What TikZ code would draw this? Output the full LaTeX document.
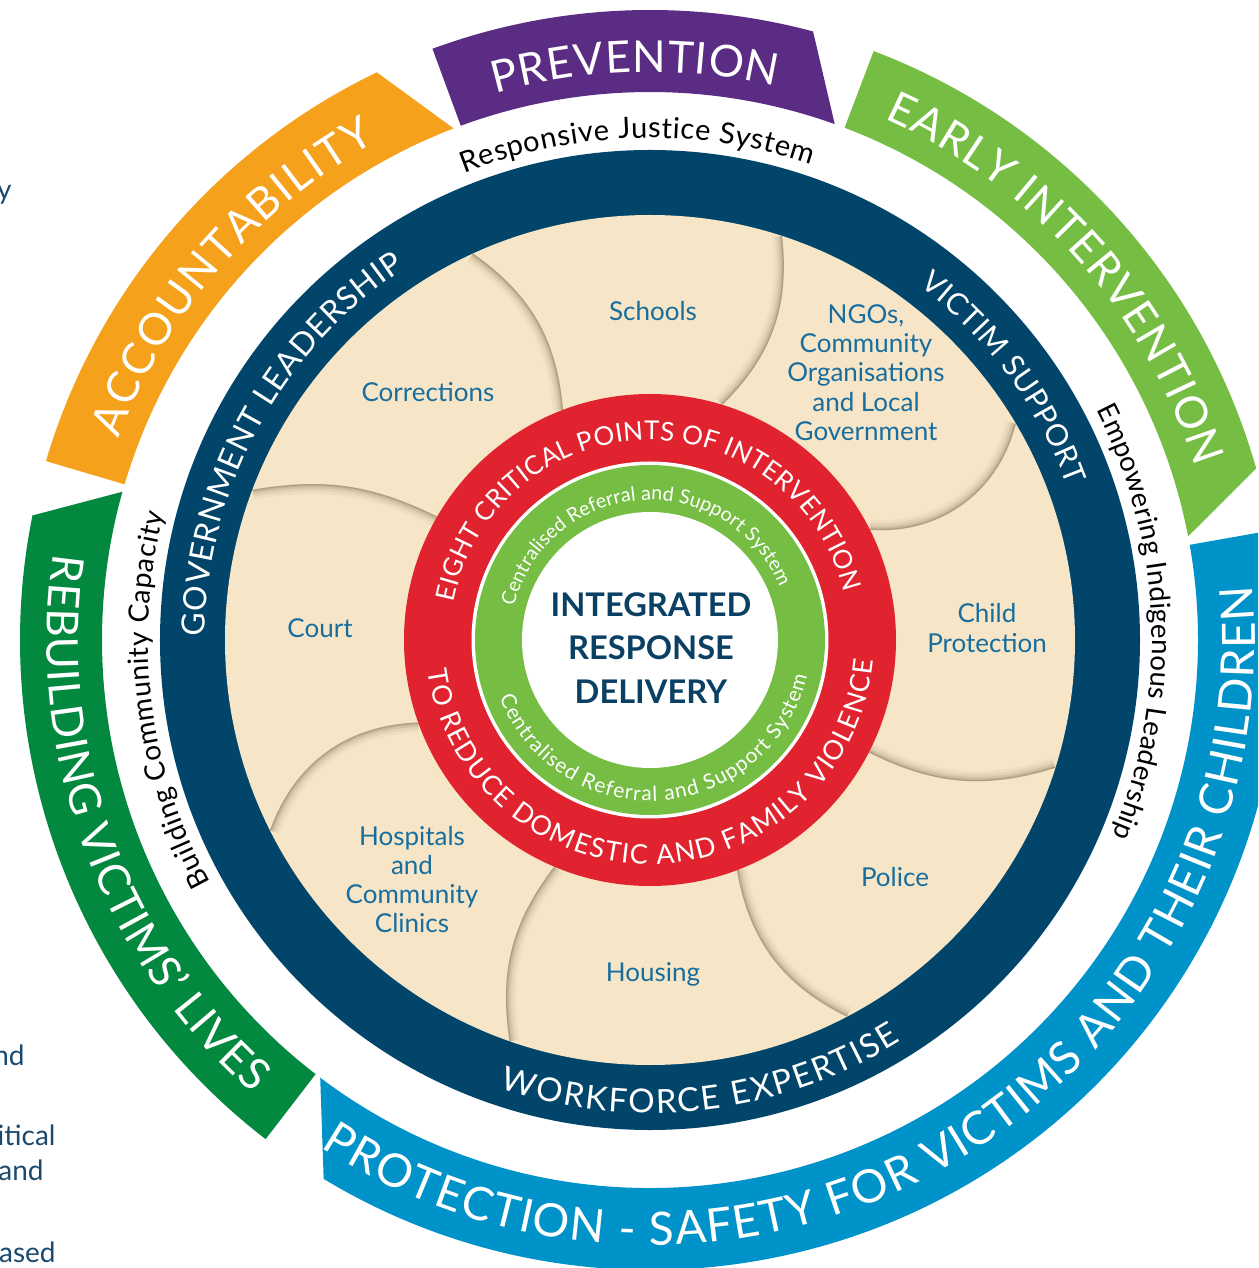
\documentclass[tikz,border=0pt]{standalone}
\usepackage{fontspec}
\setmainfont{Lato}
\usetikzlibrary{decorations.text}
\definecolor{cPurple}{HTML}{5B2C83}
\definecolor{cOrange}{HTML}{F5A11C}
\definecolor{cLime}{HTML}{76BD43}
\definecolor{cBlue}{HTML}{0093C9}
\definecolor{cGreen}{HTML}{03893F}
\definecolor{cNavy}{HTML}{01466A}
\definecolor{cRed}{HTML}{E0232E}
\definecolor{cBeige}{HTML}{F7E5C8}
\definecolor{cLabel}{HTML}{176E9E}
\definecolor{cCore}{HTML}{0A4064}
\definecolor{cShadow}{HTML}{5E4C30}
\definecolor{cSide}{HTML}{1B4A6E}
% radius, start angle, end angle, font size (pt), colour, text
\newcommand\curvtext[6]{%
  \path[decorate,decoration={text along path,text align=fit to path,text color=#5,
    text={|\fontsize{#4}{#4}\selectfont|#6}}]
    (#2:#1) arc[start angle=#2,end angle=#3,radius=#1];}
% colour, start angle, inner end angle, outer end angle
\newcommand\bandseg[4]{%
  \fill[#1] (#2:548) -- (#2:630) arc[start angle=#2,end angle=#4,radius=630]
    -- (#3:548) arc[start angle=#3,end angle=#2,radius=548] -- cycle;}
% red-edge angle, navy-edge angle, bend
\newcommand\petal[3]{%
  \begin{scope}
    \clip (#1:246) to[bend right=#3] (#2:425) -- ({#2+25}:440) -- ({#1+25}:230) -- cycle;
    \foreach \w/\o in {10/0.05,7/0.07,4.5/0.1,2.5/0.14,1.2/0.2}
      \draw[cShadow,line width=\w pt,opacity=\o] (#1:246) to[bend right=#3] (#2:425);
  \end{scope}}
\tikzset{
  lab/.style={font=\fontsize{13}{14.65}\selectfont,text=cLabel,align=center,inner sep=0pt},
  side/.style={font=\fontsize{14}{16}\selectfont,text=cSide,inner sep=0pt,anchor=base east}
}
\begin{document}
\begin{tikzpicture}[x=0.5pt,y=0.5pt]
\useasboundingbox (-650,-628) rectangle (608,640);
\clip (-650,-628) rectangle (608,640);
\fill[white] (-650,-628) rectangle (608,640);
% outer bands
\bandseg{cPurple}{110.2}{70.3}{75}
\bandseg{cLime}{69.2}{10.9}{15.8}
\bandseg{cBlue}{10.0}{-127.0}{-121.2}
\bandseg{cGreen}{232.4}{164.3}{168.6}
\bandseg{cOrange}{163.5}{111.0}{115.7}
% rings
\fill[cNavy] (0,0) circle[radius=490];
\fill[cBeige] (0,0) circle[radius=425];
\begin{scope}
  \clip (0,0) circle[radius=425];
  \petal{110.7}{114.6}{25}
  \petal{72.9}{71.9}{26}
  \petal{26.6}{30.6}{40}
  \petal{-27.2}{-17.5}{22}
  \petal{-69.3}{-62.4}{27}
  \petal{-112.9}{-109.3}{23}
  \petal{199.6}{206.6}{34}
  \petal{149.9}{159.3}{18}
\end{scope}
\fill[cRed] (0,0) circle[radius=246];
\fill[white] (0,0) circle[radius=178.5];
\fill[cLime] (0,0) circle[radius=175];
\fill[white] (0,0) circle[radius=128];
% outer band texts
\curvtext{568}{105.8}{77.2}{22}{white}{PREVENTION}
\curvtext{572}{65.8}{17.6}{22}{white}{EARLY INTERVENTION}
\curvtext{568}{159.2}{118.8}{22}{white}{ACCOUNTABILITY}
\curvtext{605}{-123}{5.2}{23}{white}{PROTECTION - SAFETY FOR VICTIMS AND THEIR CHILDREN}
\curvtext{603}{171.8}{228.8}{22}{white}{REBUILDING VICTIMS' LIVES}
% white band texts
\curvtext{502}{111.7}{71.3}{14.5}{black}{Responsive Justice System}
\curvtext{502}{27.3}{-22.9}{13.8}{black}{Empowering Indigenous Leadership}
\curvtext{502}{208.9}{165.4}{14}{black}{Building Community Capacity}
% navy ring texts
\curvtext{445}{179.5}{123.4}{16}{white}{GOVERNMENT LEADERSHIP}
\curvtext{445}{52.8}{20.3}{15}{white}{VICTIM SUPPORT}
\curvtext{473}{251.5}{302}{16.5}{white}{WORKFORCE EXPERTISE}
% red ring texts
\curvtext{200}{169.1}{13.8}{13}{white}{EIGHT CRITICAL POINTS OF INTERVENTION}
\curvtext{224}{187.7}{354.8}{13.5}{white}{TO REDUCE DOMESTIC AND FAMILY VIOLENCE}
% green ring texts
\curvtext{140}{166.1}{22.3}{9.8}{white}{Centralised Referral and Support System}
\curvtext{161}{200.9}{347.2}{10.4}{white}{Centralised Referral and Support System}
% centre
\node[font=\fontsize{16.3}{21.75}\selectfont\bfseries,text=cCore,align=center,inner sep=0pt]
  (core) at (1,-8) {INTEGRATED\\RESPONSE\\DELIVERY};
% sector labels
\node[lab] (schools) at (3,329) {Schools};
\node[lab] (corrections) at (-222,248) {Corrections};
\node[lab] (ngos) at (216,267.5) {NGOs,\\Community\\Organisations\\and Local\\Government};
\node[lab] (child) at (337,12) {Child\\Protection};
\node[lab] (court) at (-330,12) {Court};
\node[lab] (police) at (245,-237) {Police};
\node[lab] (housing) at (3,-334) {Housing};
\node[lab] (hospitals) at (-238,-239.5) {Hospitals\\and\\Community\\Clinics};
% cut-off side texts
\node[side] (fragA) at (-638,440) {y};
\node[side] (fragB) at (-625,-425) {nd};
\node[side] (fragC) at (-594,-505) {itical};
\node[side] (fragD) at (-606,-540) {and};
\node[side] (fragE) at (-594,-622) {ased};
\end{tikzpicture}
\end{document}
